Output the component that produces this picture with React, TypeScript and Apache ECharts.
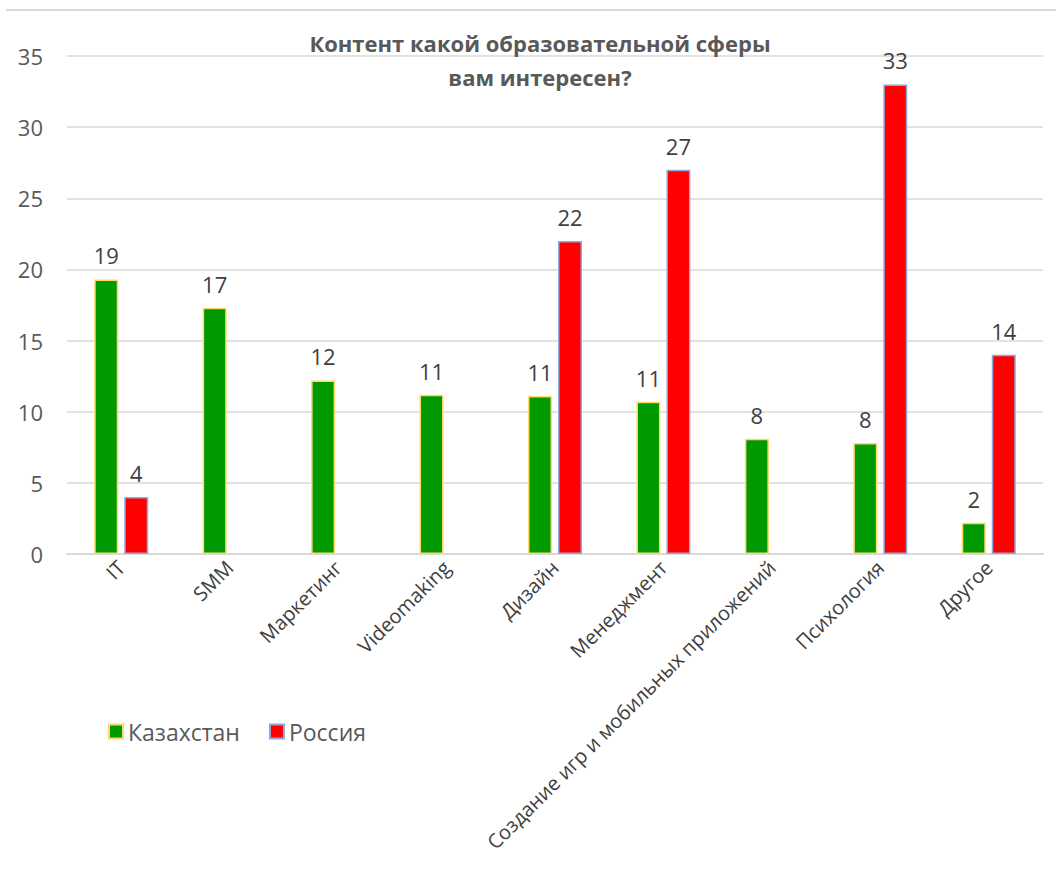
import React, { useEffect, useRef } from "react";
import * as echarts from "echarts";

const categories = [
  "IT",
  "SMM",
  "Маркетинг",
  "Videomaking",
  "Дизайн",
  "Менеджмент",
  "Создание игр и мобильных приложений",
  "Психология",
  "Другое",
];
const kazakhstan = [19.3, 17.3, 12.2, 11.2, 11.1, 10.7, 8.1, 7.8, 2.2];
const russia = [4, null, null, null, 22, 27, null, 33, 14];
const seriesNames = ["Казахстан", "Россия"];
const titleText = "Контент какой образовательной сферы\nвам интересен?";

const FONT = "'Open Sans', sans-serif";

export default function App() {
  const ref = useRef<HTMLDivElement>(null);
  useEffect(() => {
    if (!ref.current) return;
    const chart = echarts.init(ref.current, undefined, { renderer: "svg" });
    const label = {
      show: true,
      position: "top",
      distance: 13,
      fontSize: 22,
      color: "#404040",
      fontFamily: FONT,
      formatter: (p: any) => String(Math.round(p.value)),
    };
    chart.setOption({
      animation: false,
      backgroundColor: "#ffffff",
      textStyle: { fontFamily: FONT },
      title: {
        text: titleText,
        left: 535,
        top: 21,
        textAlign: "center",
        textStyle: {
          fontSize: 22,
          fontWeight: "bold",
          color: "#595959",
          lineHeight: 34,
          fontFamily: FONT,
        },
      },
      graphic: [
        {
          type: "line",
          shape: { x1: 6, y1: 10, x2: 1056, y2: 10 },
          style: { stroke: "#d9d9d9", lineWidth: 2 },
        },
      ],
      legend: {
        data: seriesNames,
        left: 103,
        top: 715,
        icon: "rect",
        itemWidth: 14,
        itemHeight: 14,
        itemGap: 29,
        textStyle: { fontSize: 23, color: "#595959", fontFamily: FONT },
      },
      grid: { left: 67, right: 13, top: 56, bottom: 325, containLabel: false },
      xAxis: {
        type: "category",
        data: categories,
        axisLine: { lineStyle: { color: "#d9d9d9", width: 2 } },
        axisTick: { show: false },
        axisLabel: {
          interval: 0,
          rotate: 45,
          fontSize: 20,
          color: "#404040",
          margin: 10,
          fontFamily: FONT,
        },
      },
      yAxis: {
        type: "value",
        min: 0,
        max: 35,
        interval: 5,
        axisLine: { show: false },
        axisTick: { show: false },
        splitLine: { lineStyle: { color: "#d9d9d9", width: 1.5 } },
        axisLabel: { fontSize: 22, color: "#595959", margin: 24, fontFamily: FONT },
      },
      series: [
        {
          name: seriesNames[0],
          type: "bar",
          data: kazakhstan,
          barWidth: 24,
          barGap: "25%",
          itemStyle: { color: "#009900", borderColor: "#ffd966", borderWidth: 1.5 },
          label,
        },
        {
          name: seriesNames[1],
          type: "bar",
          data: russia,
          barWidth: 24,
          itemStyle: { color: "#ff0000", borderColor: "#8faadc", borderWidth: 1.5 },
          label,
        },
      ],
    });
    return () => chart.dispose();
  }, []);
  return (
    <div
      ref={ref}
      style={{ position: "fixed", left: 0, top: 0, width: 1056, height: 879 }}
    />
  );
}
